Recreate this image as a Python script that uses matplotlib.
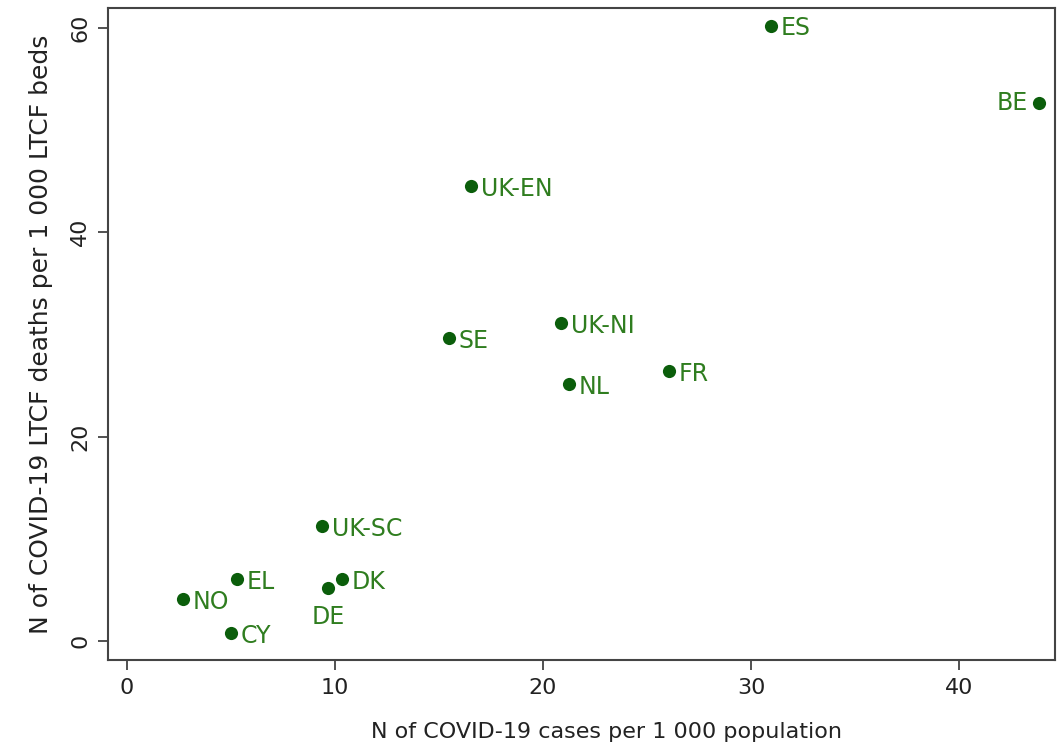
import matplotlib
matplotlib.use("Agg")
import matplotlib.pyplot as plt

countries = ["ES", "BE", "UK-EN", "UK-NI", "SE", "FR", "NL", "UK-SC", "EL", "DK", "DE", "NO", "CY"]
cases = [30.96, 43.85, 16.54, 20.87, 15.48, 26.06, 21.25, 9.38, 5.29, 10.34, 9.66, 2.69, 5.0]
deaths = [60.2, 52.6, 44.5, 31.1, 29.6, 26.4, 25.1, 11.2, 6.06, 6.06, 5.2, 4.1, 0.78]
xticks = [0, 10, 20, 30, 40]
yticks = [0, 20, 40, 60]

fig = plt.figure(figsize=(10.6, 7.47), dpi=100)
ax = fig.add_axes([0.102, 0.1165, 0.893, 0.8725])
ax.scatter(cases, deaths, s=90, color="#0b5e0b", zorder=3, linewidths=0)

pos = {"BE": ((-8, 0), "right", "center"), "DE": ((0, -21), "center", "center")}
for c, x, y in zip(countries, cases, deaths):
    if c in pos:
        off, ha, va = pos[c]
    else:
        off, ha, va = (7, -2), "left", "center"
    ax.annotate(c, (x, y), xytext=off, textcoords="offset points", ha=ha, va=va,
                fontsize=17, color="#2f7d1f")

ax.set_xlim(-0.91, 44.6)
ax.set_ylim(-1.86, 61.9)
ax.set_xticks(xticks)
ax.set_yticks(yticks)
ax.tick_params(axis="both", labelsize=16, length=7, width=1.2, pad=6,
               color="#333333", labelcolor="#222222")
for t in ax.get_yticklabels():
    t.set_rotation(90)
    t.set_va("center")
for s in ax.spines.values():
    s.set_color("#444444")
    s.set_linewidth(1.5)
ax.set_xlabel("N of COVID-19 cases per 1 000 population", fontsize=16, color="#222222")
ax.xaxis.set_label_coords(0.527, -0.095)
ax.set_ylabel("N of COVID-19 LTCF deaths per 1 000 LTCF beds", fontsize=18, color="#222222", labelpad=12)
fig.savefig("out.png", dpi=100)
